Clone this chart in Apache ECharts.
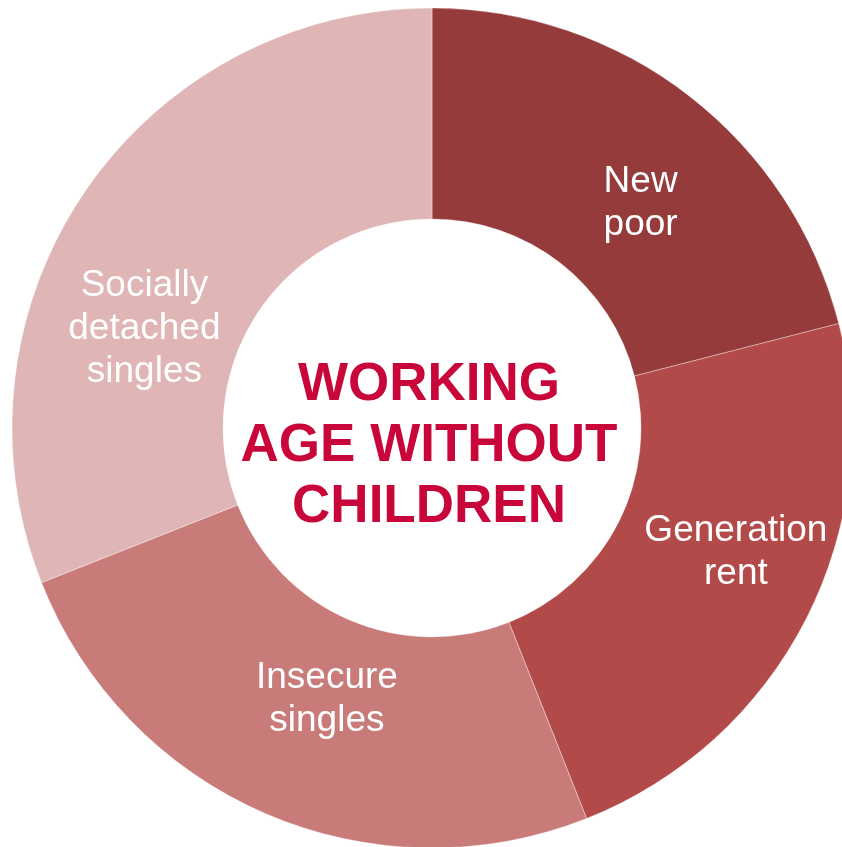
<!DOCTYPE html>
<html>
<head>
<meta charset="utf-8">
<script src="https://cdn.jsdelivr.net/npm/echarts@6/dist/echarts.min.js"></script>
<style>
html,body{margin:0;padding:0;background:#fff;}
#chart{width:842px;height:847px;}
</style>
</head>
<body>
<div id="chart"></div>
<script>
// Data
var categories = ['New\npoor', 'Generation\nrent', 'Insecure\nsingles', 'Socially\ndetached\nsingles'];
var shares = [21, 23, 25, 31];
var centerTitle = 'WORKING\nAGE WITHOUT\nCHILDREN';

// Styling (not data)
var sliceColors = ['#953B3B', '#B24A49', '#C97B7A', '#DFB5B5'];
var labelOffsets = [[14, 26], [21, -20], [21, -20], [-25, 79]];

var chart = echarts.init(document.getElementById('chart'), null, {renderer: 'canvas'});

var seriesData = categories.map(function (name, i) {
  return {
    name: name,
    value: shares[i],
    itemStyle: {color: sliceColors[i]},
    label: {offset: labelOffsets[i]}
  };
});

chart.setOption({
  animation: false,
  series: [{
    type: 'pie',
    center: [432, 428],
    radius: [209, 420],
    startAngle: 90,
    clockwise: true,
    avoidLabelOverlap: false,
    itemStyle: {borderColor: 'rgba(255,255,255,0.35)', borderWidth: 1},
    label: {
      show: true,
      position: 'inside',
      formatter: '{b}',
      color: '#ffffff',
      fontFamily: 'Liberation Sans, Arial, sans-serif',
      fontSize: 37,
      lineHeight: 43,
      align: 'center'
    },
    labelLine: {show: false},
    emphasis: {disabled: true},
    data: seriesData
  }],
  graphic: [{
    type: 'text',
    x: 429,
    y: 446,
    style: {
      text: centerTitle,
      fill: '#C8063A',
      font: 'bold 53px "Liberation Sans", Arial, sans-serif',
      lineHeight: 61,
      align: 'center',
      verticalAlign: 'middle'
    }
  }]
});
</script>
</body>
</html>
